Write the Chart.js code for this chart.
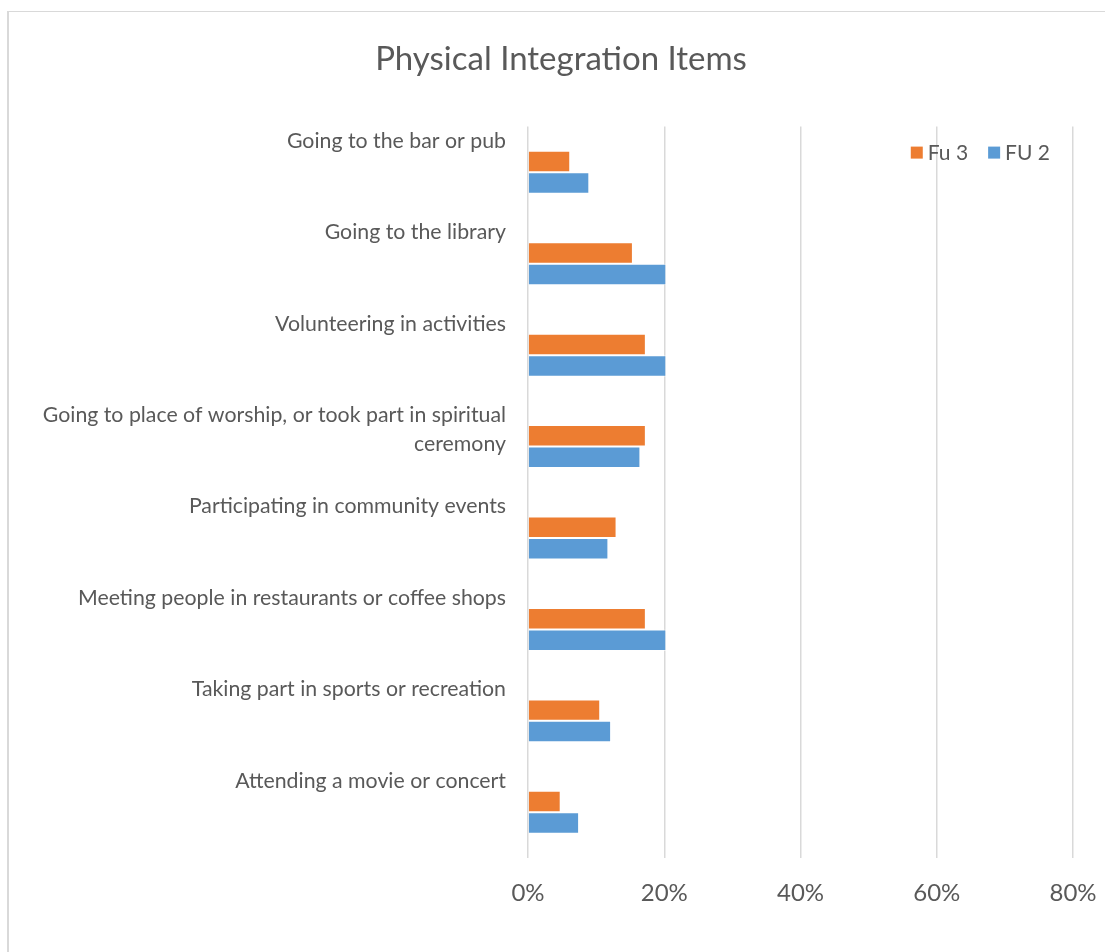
<!DOCTYPE html>
<html>
<head>
<meta charset="utf-8">
<title>Physical Integration Items</title>
<script src="https://cdn.jsdelivr.net/npm/chart.js"></script>
<style>
  body { margin: 0; background: #fff; }
  #frame { position: absolute; left: 7px; top: 11px; width: 1200px; height: 1100px;
           border-top: 1px solid #d9d9d9; border-left: 2px solid #d9d9d9; }
  #wrap { position: absolute; left: 0; top: 0; width: 1105px; height: 952px; }
</style>
</head>
<body>
<div id="frame"></div>
<div id="wrap"><canvas id="myChart"></canvas></div>
<script>
// each label gets a trailing empty line so the text sits above its pair of bars
const categories = [
    ["Going to the bar or pub", ""],
    ["Going to the library", ""],
    ["Volunteering in activities", ""],
    ["Going to place of worship, or took part in spiritual", "ceremony"],
    ["Participating in community events", ""],
    ["Meeting people in restaurants or coffee shops", ""],
    ["Taking part in sports or recreation", ""],
    ["Attending a movie or concert", ""]
];
const fu3Values = [6.2, 15.4, 17.3, 17.3, 13.0, 17.3, 10.6, 4.8];
const fu2Values = [9.0, 20.3, 20.3, 16.5, 11.8, 20.3, 12.2, 7.5];
const pctTicks = [0, 20, 40, 60, 80];

const textGray = '#595959';

// small legend drawn inside the plot, top right
const inlineLegend = {
    id: 'inlineLegend',
    afterDraw(chart) {
        const {ctx, chartArea} = chart;
        ctx.save();
        ctx.font = '21px Lato';
        ctx.textBaseline = 'middle';
        const box = 12, gap = 5, spacing = 20;
        const items = chart.data.datasets.map(ds => ({
            text: ds.label,
            color: ds.backgroundColor,
            w: box + gap + ctx.measureText(ds.label).width
        }));
        const total = items.reduce((s, it) => s + it.w, 0) + spacing * (items.length - 1);
        let x = chartArea.right - 23 - total;
        const y = chartArea.top + 26;
        items.forEach(it => {
            ctx.fillStyle = it.color;
            ctx.fillRect(x, y - box / 2, box, box);
            ctx.fillStyle = textGray;
            ctx.fillText(it.text, x + box + gap, y + 1);
            x += it.w + spacing;
        });
        ctx.restore();
    }
};

let ctx = document.getElementById('myChart').getContext('2d');
let myChart = new Chart(ctx, {
    type: 'bar',
    data: {
        labels: categories,
        datasets: [{
            label: 'Fu 3',
            data: fu3Values,
            backgroundColor: '#ED7D31',
            borderColor: 'rgba(255,255,255,0.55)',
            borderWidth: 1
        }, {
            label: 'FU 2',
            data: fu2Values,
            backgroundColor: '#5B9BD5',
            borderColor: 'rgba(255,255,255,0.55)',
            borderWidth: 1
        }]
    },
    options: {
        indexAxis: 'y',
        responsive: true,
        maintainAspectRatio: false,
        animation: false,
        categoryPercentage: 0.47,
        barPercentage: 1,
        layout: { padding: { left: 17, right: 0, top: 0, bottom: 0 } },
        plugins: {
            legend: { display: false },
            tooltip: { enabled: false },
            title: {
                display: true,
                text: 'Physical Integration Items',
                color: textGray,
                font: { family: 'Lato', size: 33, weight: 'normal' },
                padding: { top: 40, bottom: 47 }
            }
        },
        scales: {
            x: {
                min: 0,
                max: 80,
                afterBuildTicks: s => { s.ticks = pctTicks.map(v => ({ value: v })); },
                // fixed room under the plot and to the right of 80%
                afterFit: s => { s.height = 94; s.paddingLeft = 0; s.paddingRight = 32; },
                grid: { color: '#d9d9d9', lineWidth: 1.5, drawTicks: false },
                border: { display: false },
                ticks: {
                    color: textGray,
                    font: { family: 'Lato', size: 24 },
                    padding: 21,
                    callback: v => v + '%'
                }
            },
            y: {
                afterFit: s => { s.width = 511; s.paddingTop = 0; s.paddingBottom = 0; },
                grid: { display: false, drawTicks: false },
                border: { display: false },
                ticks: {
                    color: textGray,
                    font: { family: 'Lato', size: 21.3, lineHeight: '29px' },
                    padding: 22,
                    labelOffset: -17
                }
            }
        }
    },
    plugins: [inlineLegend]
});
</script>
</body>
</html>
